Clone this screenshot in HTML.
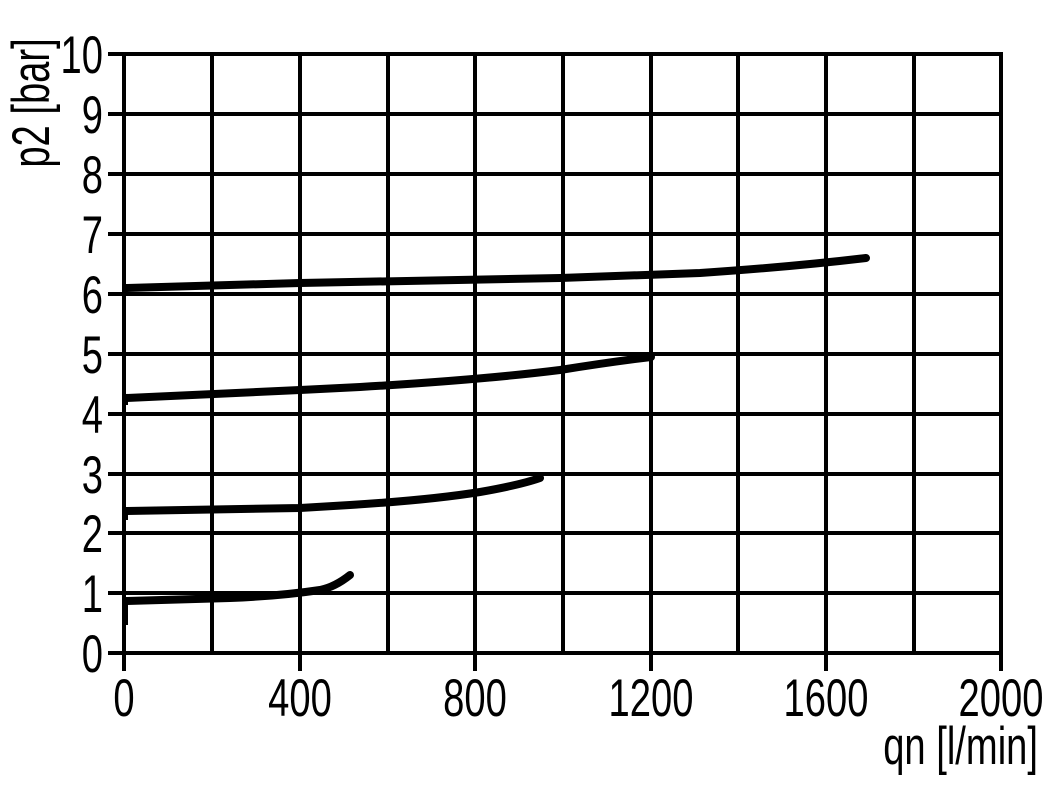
<!DOCTYPE html>
<html><head><style>
html,body{margin:0;padding:0;background:#fff;}
</style></head><body>
<svg width="1051" height="803" xmlns="http://www.w3.org/2000/svg" style="display:block">
<g stroke="#000" stroke-width="4" fill="none">
<line x1="124" y1="52" x2="124" y2="671"/>
<line x1="212" y1="52" x2="212" y2="655"/>
<line x1="300" y1="52" x2="300" y2="671"/>
<line x1="388" y1="52" x2="388" y2="655"/>
<line x1="475" y1="52" x2="475" y2="671"/>
<line x1="563" y1="52" x2="563" y2="655"/>
<line x1="651" y1="52" x2="651" y2="671"/>
<line x1="738" y1="52" x2="738" y2="655"/>
<line x1="826" y1="52" x2="826" y2="671"/>
<line x1="914" y1="52" x2="914" y2="655"/>
<line x1="1001" y1="52" x2="1001" y2="671"/>
<line x1="108" y1="54" x2="1003" y2="54"/>
<line x1="108" y1="114" x2="1003" y2="114"/>
<line x1="108" y1="174" x2="1003" y2="174"/>
<line x1="108" y1="234" x2="1003" y2="234"/>
<line x1="108" y1="294" x2="1003" y2="294"/>
<line x1="108" y1="354" x2="1003" y2="354"/>
<line x1="108" y1="414" x2="1003" y2="414"/>
<line x1="108" y1="474" x2="1003" y2="474"/>
<line x1="108" y1="533" x2="1003" y2="533"/>
<line x1="108" y1="593" x2="1003" y2="593"/>
<line x1="108" y1="653" x2="1003" y2="653"/>
</g>
<g stroke="#000" stroke-width="8" fill="none" stroke-linecap="round">
<path d="M126 288 L300 283 L560 278 L700 273 Q790 267 866 258"/>
<path d="M126 398 L300 390 L360 387 Q480 380 560 370 Q610 362 651 357"/>
<path d="M126 511 L300 508 L350 505 Q430 500 480 492 Q520 485 540 478"/>
<path d="M126 601 L230 598 Q280 596 320 590 Q335 587 350 575"/>
</g>
<g stroke="#000" stroke-width="4" fill="none">
<line x1="126" y1="625" x2="126" y2="600"/>
<line x1="126" y1="520" x2="126" y2="510"/>
<line x1="126" y1="405" x2="126" y2="398"/>
</g>
<g font-family="'Liberation Sans', sans-serif" font-size="53" fill="#000">
<g text-anchor="end">
<text x="103" y="73" transform="translate(103 0) scale(0.72 1) translate(-103 0)">10</text>
<text x="103" y="133" transform="translate(103 0) scale(0.72 1) translate(-103 0)">9</text>
<text x="103" y="193" transform="translate(103 0) scale(0.72 1) translate(-103 0)">8</text>
<text x="103" y="253" transform="translate(103 0) scale(0.72 1) translate(-103 0)">7</text>
<text x="103" y="313" transform="translate(103 0) scale(0.72 1) translate(-103 0)">6</text>
<text x="103" y="373" transform="translate(103 0) scale(0.72 1) translate(-103 0)">5</text>
<text x="103" y="433" transform="translate(103 0) scale(0.72 1) translate(-103 0)">4</text>
<text x="103" y="493" transform="translate(103 0) scale(0.72 1) translate(-103 0)">3</text>
<text x="103" y="552" transform="translate(103 0) scale(0.72 1) translate(-103 0)">2</text>
<text x="103" y="612" transform="translate(103 0) scale(0.72 1) translate(-103 0)">1</text>
<text x="103" y="672" transform="translate(103 0) scale(0.72 1) translate(-103 0)">0</text>
</g>
<g text-anchor="middle">
<text x="124" y="716" transform="translate(124 0) scale(0.72 1) translate(-124 0)">0</text>
<text x="300" y="716" transform="translate(300 0) scale(0.72 1) translate(-300 0)">400</text>
<text x="475" y="716" transform="translate(475 0) scale(0.72 1) translate(-475 0)">800</text>
<text x="651" y="716" transform="translate(651 0) scale(0.72 1) translate(-651 0)">1200</text>
<text x="826" y="716" transform="translate(826 0) scale(0.72 1) translate(-826 0)">1600</text>
<text x="1001" y="716" transform="translate(1001 0) scale(0.72 1) translate(-1001 0)">2000</text>
</g>
<text x="1038" y="764" text-anchor="end" transform="translate(1038 0) scale(0.72 1) translate(-1038 0)">qn [l/min]</text>
<text x="0" y="0" text-anchor="middle" transform="translate(49 103) rotate(-90) scale(0.72 1)">p2 [bar]</text>
</g>
</svg>
</body></html>
